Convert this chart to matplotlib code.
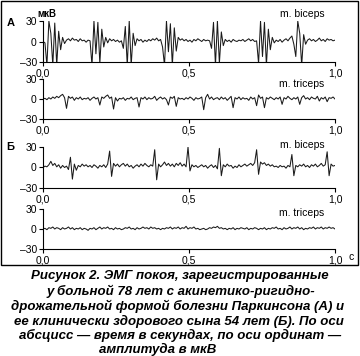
"""ЭМГ покоя: больная 78 лет (А) и её здоровый сын 54 лет (Б)."""

import matplotlib
matplotlib.use("Agg")
import matplotlib.pyplot as plt  # noqa: E402
import numpy as np  # noqa: E402
from matplotlib.patches import Rectangle  # noqa: E402

W, H = 360, 356

# амплитуда, мкВ; отсчёты равномерно по 0..1,0 с
a_biceps = [
    0, -2, -35, 30, 12, -35, 27, -35, 15, -12, 6, -3, 2, 4, 1, 5, 2, 3, 0, 4,
    1, 2, -1, 2, 1, -35, 30, -18, 28, -32, 18, -8, 6, -2, 4, 1, 3, 0, 2, -1,
    1, -10, 22, -35, 30, -35, 12, -6, 4, 1, 3, -1, 2, 0, 3, 1, 4, 2, 5, 1,
    3, -8, -35, 30, -15, 26, -35, 20, -14, 6, 2, 4, 1, 3, 0, 2, -1, 3, 1, 4,
    2, 0, 3, 1, 2, 1, -10, 28, -35, 30, -32, 14, -6, 3, 0, 2, -1, 3, 1, 0,
    2, 1, 3, 0, 2, 4, 1, 3, 0, 1, -32, 30, -22, 28, -35, 18, -12, 6, -2, 2,
    0, 3, -1, 2, 4, 1, 5, 8, -4, -22, 30, 12, -35, 10, -4, 2, 4, 1, 3, 0,
    2, 5, 1, 3, 0, 4, 2, 3, 1, 2,
]
a_triceps = [
    0, 1, -1, 2, 0, 3, 1, 4, 2, 5, 7, 2, -14, 4, 1, 3, -2, 2, 0, 3,
    -1, 1, 0, 2, -2, 1, 3, 0, 2, -9, 3, 1, 4, 6, 1, 3, -15, 2, -3, 1,
    0, 2, -2, 1, 0, 3, -1, 1, 2, -12, 2, 0, 3, -1, 2, 0, 1, 4, -2, 1,
    3, 0, 2, -1, -9, 3, 1, 4, -11, 2, 0, 1, -1, 2, 0, 3, 1, -2, 2, 0,
    1, 3, -16, 2, 7, 0, 3, -1, 1, 2, -1, 3, 0, 2, -2, 1, 4, -13, 2, 0,
    3, -1, 2, 0, 1, -2, 3, 0, 2, -10, 6, 1, 3, -13, 2, 0, 3, 1, -1, 2,
    0, 3, -8, 2, 0, 4, 1, -1, 2, 0, 3, -8, 2, 5, 0, 2, -1, 3, 1, 0,
    4, -3, 2, 0, 3, -4, 2, 1, 3, 0,
]
b_biceps = [
    0, 2, 1, 4, 9, 3, 6, 1, 4, -1, 3, 0, 2, -3, 15, -17, 5, -4, 3, 1,
    5, 2, 4, 1, 3, 0, 4, 2, -1, 3, 1, 4, 0, 5, 24, -13, 6, 2, 5, 1,
    4, 6, 2, 5, 1, 3, -1, 2, 4, 1, 5, 2, 6, 3, 1, 4, 2, 26, -18, 5,
    1, 4, 8, 3, 6, 2, 5, 1, 6, 3, 7, 2, 5, 1, 30, -5, 4, 1, 3, 0,
    2, 4, 1, 3, -1, 2, 4, 0, 3, -2, 28, -12, 4, 1, 5, 2, 3, -1, 2, 0,
    4, 1, 3, 5, 2, 4, 6, 3, 7, 26, -10, 8, 5, 7, 3, 5, 2, 4, 1, 2,
    0, 3, 1, 2, -1, 3, 1, 19, -12, 3, 1, 4, 2, 5, 1, 3, 0, 4, 2, 5,
    1, 3, 6, 2, 4, 23, -12, 5, 2, 3,
]
b_triceps = [
    0, 1, -1, 2, 1, 3, 0, 2, 1, -1, 2, 0, 1, 3, 0, 2, -1, 1, 0, 2,
    -1, 1, 0, -2, 1, 0, 2, -1, 1, 3, 0, 2, 1, 3, 0, 1, -1, 2, 0, 1,
    -1, 0, 2, 1, 3, 0, 1, -1, 2, 0, 1, 3, 1, 2, 0, 3, 1, 2, 0, 1,
    -1, 1, 0, 2, 1, 3, 0, 2, 1, 3, 0, 2, 1, 4, 0, 2, 1, 3, 0, 1,
    -1, 0, 1, -1, 0, 2, 1, 3, 2, 4, 1, 2, 0, 1, -1, 1, 0, 2, -1, 1,
    0, 2, 1, 0, 2, -1, 1, 0, 2, 1, -1, 1, 0, 2, -1, 1, 0, 2, 1, 3,
    0, 1, -1, 2, 0, 1, 3, 0, 2, 1, 3, 0, 2, -1, 1, 0, 2, 1, 3, 0,
    2, 1, 3, 0, 2, 1, 3, 1, 2, 0,
]

y_ticks = [-30, 0, 30]
y_labels = ["\u201330", "0", "30"]
x_ticks = [0.0, 0.5, 1.0]
x_labels = ["0,0", "0,5", "1,0"]

caption = [
    "Рисунок 2. ЭМГ покоя, зарегистрированные",
    "у больной 78 лет с акинетико-ригидно-",
    "дрожательной формой болезни Паркинсона (А) и",
    "ее клинически здорового сына 54 лет (Б). По оси",
    "абсцисс \u2014 время в секундах, по оси ординат \u2014",
    "амплитуда в мкВ",
]

plt.rcParams["font.family"] = ["Liberation Sans", "DejaVu Sans"]


def px(x, y):
    return x / W, 1 - y / H


def panel(fig, top, bottom, values, name, name_y):
    x0, y0 = px(43, bottom)
    ax = fig.add_axes([x0, y0, 292 / W, (bottom - top) / H])
    t = np.linspace(0, 1.0, len(values))
    ax.plot(t, values, color="#1a1a1a", lw=0.75)
    ax.set_xlim(0, 1.0)
    ax.set_ylim(-30, 30)
    for s in ("top", "right"):
        ax.spines[s].set_visible(False)
    ax.spines["left"].set_linewidth(0.8)
    ax.spines["bottom"].set_linewidth(0.8)
    ax.set_yticks(y_ticks, y_labels)
    ax.set_xticks(x_ticks, x_labels)
    ax.tick_params(labelsize=7.5, length=3, width=0.8, pad=1.5)
    fig.text(*px(302, name_y), name, ha="center", va="center", fontsize=7.5)
    return ax


def main():
    fig = plt.figure(figsize=(W / 100, H / 100), dpi=100)

    fig.add_artist(Rectangle((1 / W, 1 - 265 / H), 357 / W, 264 / H,
                             transform=fig.transFigure, fill=False,
                             lw=1.0, ec="black"))

    panel(fig, 21, 62, a_biceps, "m. biceps", 14)
    panel(fig, 79, 119, a_triceps, "m. triceps", 84)
    panel(fig, 147, 188, b_biceps, "m. biceps", 145)
    panel(fig, 209, 249, b_triceps, "m. triceps", 213)

    fig.text(*px(47, 14), "мкВ", ha="center", va="center",
             fontsize=7, fontweight="bold")
    fig.text(*px(11, 23), "А", ha="center", va="center",
             fontsize=8, fontweight="bold")
    fig.text(*px(10, 147), "Б", ha="center", va="center",
             fontsize=8, fontweight="bold")
    fig.text(*px(351, 257), "с", ha="center", va="center", fontsize=7.5)

    centers = [180, 181, 178, 179, 180, 158]
    rows = [276.5, 291.5, 306.5, 321, 335.5, 349.5]
    for line, cx, cy in zip(caption, centers, rows):
        fig.text(*px(cx, cy), line, ha="center", va="center",
                 fontsize=9.5, fontweight="bold", fontstyle="italic")

    fig.savefig("out.png", dpi=100)
    plt.close(fig)


if __name__ == "__main__":
    main()
